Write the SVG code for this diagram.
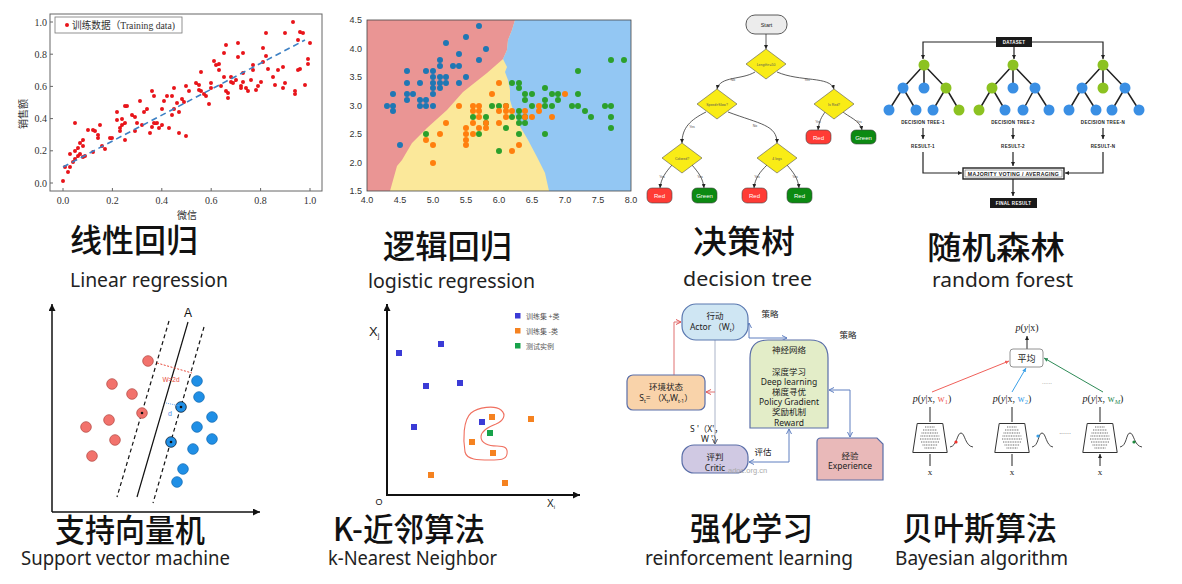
<svg xmlns="http://www.w3.org/2000/svg" width="1182" height="584" viewBox="0 0 1182 584">
<style>
.t1{font-family:"Noto Sans CJK SC",sans-serif;font-size:32px;font-weight:500;fill:#111}
.t2{font-family:"Noto Sans","Noto Sans CJK SC",sans-serif;font-size:20px;fill:#222}
.tk{font-family:"Liberation Serif",serif;font-size:10px;fill:#333}
.tk2{font-family:"Liberation Sans",sans-serif;font-size:9px;fill:#333}
.dt{font-family:"Liberation Sans",sans-serif;font-size:6px;fill:#fff;text-anchor:middle}
.dl{font-family:"Liberation Sans",sans-serif;font-size:3.5px;fill:#555;text-anchor:middle}
.rf{font-family:"Liberation Sans",sans-serif;font-size:4.5px;font-weight:bold;fill:#222;text-anchor:middle;letter-spacing:0.3px}
.rl{font-family:"Noto Sans","Noto Sans CJK SC",sans-serif;font-size:8.5px;fill:#222;text-anchor:middle}
.bs{font-family:"Liberation Serif","Noto Sans CJK SC",serif;font-size:10px;fill:#222;text-anchor:middle}
.dot{stroke-linecap:round;fill:none}
.red{fill:#ff3b35;stroke:#444;stroke-width:0.6}
.grn{fill:#0c8a12;stroke:#444;stroke-width:0.6}
.dia{fill:#f9ec16;stroke:#555;stroke-width:0.6}
.rg{fill:#8cc221}
.rb{fill:#3a8fe4}
.svr{fill:#f2726c;stroke:#b9504a;stroke-width:0.8}
.svb{fill:#1f8fe6;stroke:#1670b8;stroke-width:0.8}
.rln{fill:none;stroke:#5f7fc0;stroke-width:1}
</style>
<defs>
<marker id="ms" viewBox="0 0 6 6" refX="6" refY="3" markerWidth="4" markerHeight="4" markerUnits="userSpaceOnUse" orient="auto"><path d="M0,0L6,3L0,6z" fill="#222"/></marker>
<marker id="mm" viewBox="0 0 6 6" refX="6" refY="3" markerWidth="5" markerHeight="5" markerUnits="userSpaceOnUse" orient="auto"><path d="M0,0L6,3L0,6z" fill="#222"/></marker>
<marker id="ml" viewBox="0 0 8 8" refX="8" refY="4" markerWidth="8" markerHeight="7" markerUnits="userSpaceOnUse" orient="auto"><path d="M0,0L8,4L0,8z" fill="#111"/></marker>
<marker id="mro" viewBox="0 0 6 6" refX="5.5" refY="3" markerWidth="6" markerHeight="6" markerUnits="userSpaceOnUse" orient="auto"><path d="M0.5,0.5L5.5,3L0.5,5.5" fill="none" stroke="#e05555" stroke-width="1"/></marker>
<marker id="mbo" viewBox="0 0 6 6" refX="5.5" refY="3" markerWidth="6" markerHeight="6" markerUnits="userSpaceOnUse" orient="auto-start-reverse"><path d="M0.5,0.5L5.5,3L0.5,5.5" fill="none" stroke="#5f7fc0" stroke-width="1"/></marker>
<marker id="mgo" viewBox="0 0 6 6" refX="5.5" refY="3" markerWidth="6" markerHeight="6" markerUnits="userSpaceOnUse" orient="auto"><path d="M0.5,0.5L5.5,3L0.5,5.5" fill="none" stroke="#556" stroke-width="1"/></marker>
<marker id="mr" viewBox="0 0 6 6" refX="6" refY="3" markerWidth="4" markerHeight="4" markerUnits="userSpaceOnUse" orient="auto"><path d="M0,0L6,3L0,6z" fill="#f0605a"/></marker>
<marker id="mb" viewBox="0 0 6 6" refX="6" refY="3" markerWidth="4" markerHeight="4" markerUnits="userSpaceOnUse" orient="auto"><path d="M0,0L6,3L0,6z" fill="#3aa0e8"/></marker>
<marker id="mg" viewBox="0 0 6 6" refX="6" refY="3" markerWidth="4" markerHeight="4" markerUnits="userSpaceOnUse" orient="auto"><path d="M0,0L6,3L0,6z" fill="#2e8b57"/></marker>
</defs>
<rect width="1182" height="584" fill="#fff"/>

<!-- Panel 1: linear regression -->
<g id="linear-regression">
<rect x="50" y="14" width="272" height="177" fill="#fff" stroke="#666" stroke-width="1"/>
<g stroke="#666" stroke-width="1">
<path d="M50 183h3M50 150.8h3M50 118.6h3M50 86.4h3M50 54.2h3M50 22h3M63 191v-3M112.4 191v-3M161.8 191v-3M211.2 191v-3M260.6 191v-3M310 191v-3"/>
</g>
<g class="tk" text-anchor="end">
<text x="47" y="186.5">0.0</text><text x="47" y="154.3">0.2</text><text x="47" y="122.1">0.4</text><text x="47" y="89.9">0.6</text><text x="47" y="57.7">0.8</text><text x="47" y="25.5">1.0</text>
</g>
<g class="tk" text-anchor="middle">
<text x="63" y="204">0.0</text><text x="112.4" y="204">0.2</text><text x="161.8" y="204">0.4</text><text x="211.2" y="204">0.6</text><text x="260.6" y="204">0.8</text><text x="310" y="204">1.0</text>
</g>
<text x="187" y="219" text-anchor="middle" font-family="Noto Sans CJK SC, sans-serif" font-size="10" fill="#333">微信</text>
<text transform="translate(27 114) rotate(-90)" text-anchor="middle" font-family="Noto Sans CJK SC, sans-serif" font-size="10" fill="#333">销售额</text>
<path class="dot" stroke="#e8141a" stroke-width="4" d="M63 181h0M68 172h0M65 167h0M70 167h0M70 154h0M73 162h0M75 159h0M75 151h0M75 123h0M78 156h0M78 148h0M80 143h0M80 154h0M83 140h0M83 146h0M83 157h0M85 156h0M88 130h0M93 152h0M93 130h0M95 131h0M98 138h0M98 135h0M100 125h0M102 146h0M105 149h0M110 138h0M112 138h0M117 112h0M117 120h0M120 128h0M120 131h0M122 125h0M122 119h0M125 106h0M125 123h0M125 140h0M127 106h0M132 115h0M135 117h0M135 131h0M137 123h0M140 101h0M142 125h0M144 112h0M147 109h0M150 133h0M152 127h0M152 91h0M154 96h0M154 123h0M157 123h0M159 128h0M162 109h0M162 125h0M164 101h0M167 96h0M169 128h0M172 115h0M172 96h0M174 88h0M174 109h0M177 103h0M179 133h0M179 112h0M182 99h0M184 102h0M186 86h0M186 136h0M189 91h0M196 83h0M199 90h0M199 85h0M201 72h0M201 91h0M204 94h0M206 96h0M209 104h0M211 88h0M211 83h0M214 61h0M216 65h0M219 64h0M219 70h0M221 86h0M224 77h0M224 53h0M226 45h0M226 91h0M228 98h0M228 93h0M231 82h0M231 77h0M233 83h0M236 80h0M238 43h0M238 57h0M241 88h0M241 86h0M243 53h0M243 82h0M243 73h0M246 88h0M248 91h0M251 80h0M253 65h0M253 70h0M256 90h0M258 86h0M261 82h0M263 48h0M263 62h0M266 33h0M266 56h0M268 69h0M273 77h0M275 85h0M278 70h0M283 67h0M283 88h0M285 83h0M285 33h0M293 22h0M295 91h0M295 94h0M298 70h0M298 40h0M300 69h0M300 32h0M303 33h0M305 85h0M308 59h0M308 64h0M310 43h0"/>
<line x1="63" y1="167" x2="305" y2="40" stroke="#3d80c4" stroke-width="1.6" stroke-dasharray="6 4"/>
<rect x="55" y="17" width="127" height="16" fill="#fff" stroke="#777" stroke-width="0.8"/>
<circle cx="67" cy="25" r="2" fill="#e8141a"/>
<text x="72" y="29" font-family="Liberation Serif, Noto Sans CJK SC, serif" font-size="10" fill="#333" textLength="103" lengthAdjust="spacingAndGlyphs">训练数据（Training data)</text>
</g>

<!-- Panel 2: logistic regression -->
<g id="logistic-regression">
<rect x="367" y="20" width="264" height="171" fill="#fbe89a"/>
<path d="M367 20H515L512 30L508 40L507 50L503 59L487 73L463 92L447 110L427 128L412 143L402 160L397 166L390 191H367Z" fill="#ea9594"/>
<path d="M515 20H631V191H549L545 173L537 157L528 140L518 123L513 110L510 100L510 90L508 80L505 72L507 67L503 59L507 50L508 40L512 30Z" fill="#93c7f3"/>
<path class="dot" stroke="#1f77b4" stroke-width="6" d="M387 106h0M393 94h0M393 106h0M393 111h0M400 145h0M407 71h0M407 83h0M407 94h0M407 100h0M413 94h0M420 83h0M420 100h0M420 106h0M426 71h0M426 100h0M426 106h0M433 71h0M433 77h0M433 83h0M433 88h0M433 94h0M433 106h0M440 60h0M440 66h0M440 77h0M440 83h0M440 88h0M446 43h0M446 77h0M446 83h0M453 66h0M459 54h0M459 66h0M459 83h0M466 37h0M466 77h0M479 26h0M479 60h0M486 49h0"/>
<path class="dot" stroke="#2ca02c" stroke-width="6" d="M426 134h0M473 117h0M479 134h0M486 117h0M486 123h0M492 106h0M499 106h0M499 151h0M506 106h0M506 128h0M512 83h0M512 117h0M519 83h0M519 88h0M519 111h0M519 117h0M519 123h0M519 134h0M525 94h0M525 100h0M525 117h0M525 123h0M532 94h0M532 106h0M545 88h0M545 100h0M545 106h0M545 134h0M552 94h0M552 106h0M558 94h0M558 100h0M572 106h0M578 71h0M578 94h0M578 106h0M585 111h0M591 117h0M605 106h0M611 60h0M611 106h0M611 117h0M611 128h0M624 60h0"/>
<path class="dot" stroke="#ff7f0e" stroke-width="6" d="M426 140h0M433 145h0M433 163h0M440 134h0M446 123h0M459 106h0M466 128h0M466 134h0M466 140h0M466 145h0M473 106h0M473 111h0M473 123h0M473 134h0M479 106h0M479 111h0M479 117h0M479 128h0M486 123h0M486 128h0M492 94h0M499 83h0M499 111h0M499 123h0M506 106h0M506 111h0M506 117h0M512 111h0M512 151h0M519 145h0M525 111h0M525 117h0M532 117h0M539 106h0M539 111h0M552 117h0M565 94h0"/>
<rect x="367" y="20" width="264" height="171" fill="none" stroke="#444" stroke-width="0.8"/>
<g class="tk2" text-anchor="end">
<text x="362" y="194">1.5</text><text x="362" y="165.5">2.0</text><text x="362" y="137">2.5</text><text x="362" y="108.5">3.0</text><text x="362" y="80">3.5</text><text x="362" y="51.5">4.0</text><text x="362" y="23">4.5</text>
</g>
<g class="tk2" text-anchor="middle">
<text x="367" y="203">4.0</text><text x="400" y="203">4.5</text><text x="433" y="203">5.0</text><text x="466" y="203">5.5</text><text x="499" y="203">6.0</text><text x="532" y="203">6.5</text><text x="565" y="203">7.0</text><text x="598" y="203">7.5</text><text x="631" y="203">8.0</text>
</g>
</g>

<!-- Panel 3: decision tree -->
<g id="decision-tree">
<g id="dt-edges" fill="none" stroke="#333" stroke-width="0.8" marker-end="url(#ms)">
<path d="M766 34V49"/>
<path d="M755 72C742 80 720 76 717 89"/>
<path d="M777 72C800 82 830 76 834 89"/>
<path d="M706 112C690 120 682 128 682 143"/>
<path d="M728 112C760 124 777 125 777 143"/>
<path d="M826 111C821 117 819 122 818 130"/>
<path d="M842 111C848 117 860 120 862 130"/>
<path d="M672 165C666 172 661 178 660 188"/>
<path d="M692 165C698 172 703 178 704 188"/>
<path d="M767 165C760 172 755 178 754 188"/>
<path d="M787 165C793 172 798 178 799 188"/>
</g>
<g class="dl">
<text x="733" y="81">No</text><text x="807" y="81">Yes</text>
<text x="692" y="128">Yes</text><text x="755" y="127">No</text>
<text x="818" y="123">Yes</text><text x="859" y="123">Yes</text>
<text x="662" y="178">Yes</text><text x="700" y="178">Yes</text>
<text x="757" y="178">Yes</text><text x="795" y="178">Yes</text>
</g>
<g id="dt-start"><rect x="746" y="15" width="41" height="19" rx="9" fill="#ececec" stroke="#333" stroke-width="0.8"/><text x="766.5" y="26.5" font-family="Liberation Sans, sans-serif" font-size="5.5" text-anchor="middle" fill="#222">Start</text></g>
<g id="dt-d1"><path class="dia" d="M766 49L786 64L766 79L746 64Z"/><text x="766" y="65.5" class="dl" fill="#333">Length&gt;=50</text></g>
<g id="dt-d2"><path class="dia" d="M717 89L737 104L717 119L697 104Z"/><text x="717" y="105.5" class="dl">Speed&gt;Slow?</text></g>
<g id="dt-d3"><path class="dia" d="M834 89L854 104L834 119L814 104Z"/><text x="834" y="105.5" class="dl">Is Red?</text></g>
<g id="dt-d4"><path class="dia" d="M682 143L702 158L682 173L662 158Z"/><text x="682" y="159.5" class="dl">Colored?</text></g>
<g id="dt-d5"><path class="dia" d="M777 143L797 158L777 173L757 158Z"/><text x="777" y="159.5" class="dl">4 legs</text></g>
<g id="dt-l1"><rect class="red" x="806" y="130" width="25" height="14" rx="5"/><text class="dt" x="818.5" y="139.5">Red</text></g>
<g id="dt-l2"><rect class="grn" x="851" y="130" width="25" height="14" rx="5"/><text class="dt" x="863.5" y="139.5">Green</text></g>
<g id="dt-l3"><rect class="red" x="647" y="188" width="25" height="15" rx="5"/><text class="dt" x="659.5" y="197.5">Red</text></g>
<g id="dt-l4"><rect class="grn" x="692" y="188" width="25" height="15" rx="5"/><text class="dt" x="704.5" y="197.5">Green</text></g>
<g id="dt-l5"><rect class="red" x="742" y="188" width="25" height="15" rx="5"/><text class="dt" x="754.5" y="197.5">Red</text></g>
<g id="dt-l6"><rect class="grn" x="787" y="188" width="25" height="15" rx="5"/><text class="dt" x="799.5" y="197.5">Red</text></g>
</g>

<!-- Panel 4: random forest -->
<g id="random-forest">
<g id="rf-connectors" fill="none" stroke="#222" stroke-width="1.2" marker-end="url(#ms)">
<path d="M996 42H923V59"/><path d="M1032 42H1103V59"/><path d="M1014 47V59"/>
<path d="M923 128V139"/><path d="M1013 128V139"/><path d="M1103 128V139"/>
<path d="M923 152V173H962"/><path d="M1013 152V166"/><path d="M1103 152V173H1065"/>
<path d="M1013 179V196"/>
</g>
<g stroke="#222" stroke-width="1.5">
<path d="M924 65L903 88M924 65L924 88M924 65L946 88M903 88L889 110M903 88L916 110M946 88L933 110M946 88L959 110"/>
<path d="M1013 65L992 88M1013 65L1013 88M1013 65L1035 88M992 88L979 110M992 88L1005 110M1035 88L1023 110M1035 88L1049 110"/>
<path d="M1103 65L1082 88M1103 65L1103 88M1103 65L1125 88M1082 88L1069 110M1082 88L1096 110M1125 88L1112 110M1125 88L1139 110"/>
</g>
<g id="rf-tree1">
<circle class="rg" cx="924" cy="65" r="5.5"/><circle class="rb" cx="903" cy="88" r="5.5"/><circle class="rb" cx="924" cy="88" r="5.5"/><circle class="rg" cx="946" cy="88" r="5.5"/>
<circle class="rb" cx="889" cy="110" r="5.5"/><circle class="rb" cx="916" cy="110" r="5.5"/><circle class="rb" cx="933" cy="110" r="5.5"/><circle class="rg" cx="959" cy="110" r="5.5"/>
</g>
<g id="rf-tree2">
<circle class="rg" cx="1013" cy="65" r="5.5"/><circle class="rg" cx="992" cy="88" r="5.5"/><circle class="rb" cx="1013" cy="88" r="5.5"/><circle class="rb" cx="1035" cy="88" r="5.5"/>
<circle class="rg" cx="979" cy="110" r="5.5"/><circle class="rb" cx="1005" cy="110" r="5.5"/><circle class="rb" cx="1023" cy="110" r="5.5"/><circle class="rb" cx="1049" cy="110" r="5.5"/>
</g>
<g id="rf-tree3">
<circle class="rg" cx="1103" cy="65" r="5.5"/><circle class="rb" cx="1082" cy="88" r="5.5"/><circle class="rg" cx="1103" cy="88" r="5.5"/><circle class="rb" cx="1125" cy="88" r="5.5"/>
<circle class="rb" cx="1069" cy="110" r="5.5"/><circle class="rb" cx="1096" cy="110" r="5.5"/><circle class="rb" cx="1112" cy="110" r="5.5"/><circle class="rb" cx="1139" cy="110" r="5.5"/>
</g>
<g id="rf-dataset"><rect x="996" y="37" width="36" height="10" fill="#1a1a1a"/><text x="1014" y="44" class="rf" fill="#fff" style="fill:#fff">DATASET</text></g>
<text x="923" y="124" class="rf">DECISION TREE-1</text><text x="1013" y="124" class="rf">DECISION TREE-2</text><text x="1103" y="124" class="rf">DECISION TREE-N</text>
<text x="923" y="148" class="rf">RESULT-1</text><text x="1013" y="148" class="rf">RESULT-2</text><text x="1103" y="148" class="rf">RESULT-N</text>
<g id="rf-vote"><rect x="963" y="168" width="101" height="11" fill="#fff" stroke="#222" stroke-width="1.4"/><rect x="965" y="170" width="97" height="7" fill="none" stroke="#222" stroke-width="0.4"/><text x="1013.5" y="175.6" class="rf" style="font-size:5.2px">MAJORITY VOTING / AVERAGING</text></g>
<g id="rf-final"><rect x="990" y="198" width="47" height="10" fill="#1a1a1a"/><text x="1013.5" y="205" class="rf" style="fill:#fff">FINAL RESULT</text></g>
</g>

<!-- Panel 5: SVM -->
<g id="svm">
<g id="svm-axes" fill="none" stroke="#111" stroke-width="1.5" marker-end="url(#ml)">
<path d="M52 512V304"/><path d="M52 512H260"/>
</g>
<line x1="188" y1="322" x2="137" y2="497" stroke="#111" stroke-width="1.2"/>
<line x1="169" y1="321" x2="117" y2="497" stroke="#111" stroke-width="1.2" stroke-dasharray="4 3"/>
<line x1="204" y1="327" x2="153" y2="503" stroke="#111" stroke-width="1.2" stroke-dasharray="4 3"/>
<text x="188" y="317" font-family="Liberation Sans, sans-serif" font-size="12" text-anchor="middle" fill="#111">A</text>
<g id="svm-red">
<circle class="svr" cx="148" cy="361" r="5.3"/><circle class="svr" cx="112" cy="384" r="5.3"/><circle class="svr" cx="132" cy="394" r="5.3"/><circle class="svr" cx="142" cy="413" r="5.3"/>
<circle class="svr" cx="109" cy="420" r="5.3"/><circle class="svr" cx="86" cy="427" r="5.3"/><circle class="svr" cx="115" cy="440" r="5.3"/><circle class="svr" cx="92" cy="456" r="5.3"/>
</g>
<g id="svm-blue">
<circle class="svb" cx="197" cy="381" r="5.3"/><circle class="svb" cx="199" cy="397" r="5.3"/><circle class="svb" cx="181" cy="407" r="5.3" style="stroke:#123"/><circle class="svb" cx="212" cy="417" r="5.3"/>
<circle class="svb" cx="197" cy="427" r="5.3"/><circle class="svb" cx="212" cy="439" r="5.3"/><circle class="svb" cx="171" cy="442" r="5.3" style="stroke:#123"/><circle class="svb" cx="193" cy="449" r="5.3"/>
<circle class="svb" cx="183" cy="469" r="5.3"/><circle class="svb" cx="177" cy="482" r="5.3"/>
</g>
<g fill="#111"><circle cx="142" cy="413" r="1.3"/><circle cx="181" cy="407" r="1.3"/><circle cx="171" cy="442" r="1.3"/></g>
<line x1="157" y1="363" x2="192" y2="373" stroke="#e84a3c" stroke-width="1" stroke-dasharray="2 1.5"/>
<text x="171" y="382" font-family="Liberation Sans, sans-serif" font-size="6.5" text-anchor="middle" fill="#e84a3c">W=2d</text>
<line x1="166" y1="403" x2="180" y2="406" stroke="#6aa7f0" stroke-width="1" stroke-dasharray="1 1"/>
<text x="170" y="416" font-family="Liberation Sans, sans-serif" font-size="7" text-anchor="middle" fill="#4a8ae8">d</text>
</g>

<!-- Panel 6: KNN -->
<g id="knn">
<g id="knn-axes" fill="none" stroke="#111" stroke-width="2" marker-end="url(#ml)">
<path d="M387 495V304"/><path d="M386 495H580"/>
</g>
<text x="379" y="505" font-family="Liberation Sans, sans-serif" font-size="9" text-anchor="middle" fill="#111">O</text>
<text x="369" y="336" font-family="Liberation Sans, sans-serif" font-size="13" fill="#222">X<tspan font-size="7" dy="2">j</tspan></text>
<text x="547" y="507" font-family="Liberation Sans, sans-serif" font-size="10" fill="#222">X<tspan font-size="6" dy="2">i</tspan></text>
<g id="knn-legend" font-family="Noto Sans CJK SC, sans-serif" font-size="7" fill="#555">
<rect x="515" y="313" width="5.5" height="5.5" fill="#3b3bd6"/><text x="526" y="319">训练集 +类</text>
<rect x="515" y="328" width="5.5" height="5.5" fill="#f58220"/><text x="526" y="334">训练集 -类</text>
<rect x="515" y="343" width="5.5" height="5.5" fill="#17a24a"/><text x="526" y="349">测试实例</text>
</g>
<g fill="#3b3bd6"><rect x="396" y="350" width="6" height="6"/><rect x="438" y="341" width="6" height="6"/><rect x="423" y="383" width="6" height="6"/><rect x="457" y="380" width="6" height="6"/><rect x="411" y="424" width="6" height="6"/><rect x="479" y="419" width="6" height="6"/></g>
<g fill="#f58220"><rect x="489" y="414" width="6" height="6"/><rect x="528" y="416" width="6" height="6"/><rect x="469" y="439" width="6" height="6"/><rect x="490" y="450" width="6" height="6"/><rect x="428" y="472" width="6" height="6"/><rect x="502" y="480" width="6" height="6"/></g>
<rect x="487" y="430" width="6" height="6" fill="#17a24a"/>
<path d="M501 410C495 405 478 407 471 413C463 420 463 440 465 452C467 460 478 460 490 460C500 460 506 460 507 454C508 448 505 446 497 446C488 446 481 443 481 437C481 431 488 427 496 424C503 421 507 415 501 410Z" fill="none" stroke="#f07060" stroke-width="1.1"/>
</g>

<!-- Panel 7: reinforcement learning -->
<g id="reinforcement-learning">
<g id="rl-connectors">
<path d="M674 375V322H681" fill="none" stroke="#e07070" stroke-width="1" marker-end="url(#mro)"/>
<path d="M715 340V444" fill="none" stroke="#aab3c8" stroke-width="1" marker-end="url(#mgo)"/>
<path d="M715 392H706" fill="none" stroke="#e07070" stroke-width="1" marker-end="url(#mro)"/>
<path class="rln" d="M749 323V338H787" marker-start="url(#mbo)" marker-end="url(#mbo)"/>
<path class="rln" d="M789 429V462H749" marker-start="url(#mbo)" marker-end="url(#mbo)"/>
<path class="rln" d="M829 390H850V437" marker-start="url(#mbo)" marker-end="url(#mbo)"/>
</g>
<g id="rl-actor"><rect x="682" y="304" width="66" height="36" rx="14" fill="#cfe6f3" stroke="#5a78b0" stroke-width="1.2"/><text class="rl" x="715" y="319">行动</text><text class="rl" x="715" y="330">Actor （W<tspan font-size="5" dy="1.5">t</tspan><tspan dy="-1.5">）</tspan></text></g>
<g id="rl-nn"><path d="M750 428V358Q750 340 768 340H810Q828 340 828 358V428Z" fill="#e3edc8" stroke="#5a6ea8" stroke-width="1.2"/>
<text class="rl" x="789" y="353">神经网络</text><text class="rl" x="789" y="375">深度学习</text><text class="rl" x="789" y="385">Deep learning</text><text class="rl" x="789" y="395">梯度寻优</text><text class="rl" x="789" y="405">Policy Gradient</text><text class="rl" x="789" y="415">奖励机制</text><text class="rl" x="789" y="425.5">Reward</text></g>
<g id="rl-env"><rect x="627" y="375" width="78" height="35" rx="6" fill="#f9d3aa" stroke="#5a6ea8" stroke-width="1.2"/><text class="rl" x="666" y="390">环境状态</text><text class="rl" x="666" y="401">S<tspan font-size="5" dy="1.5">t</tspan><tspan dy="-1.5">= （X</tspan><tspan font-size="5" dy="1.5">t</tspan><tspan dy="-1.5">,W</tspan><tspan font-size="5" dy="1.5">t-1</tspan><tspan dy="-1.5">）</tspan></text></g>
<g id="rl-critic"><rect x="682" y="445" width="66" height="28" rx="12" fill="#d0c9e3" stroke="#5a6ea8" stroke-width="1.2"/><text class="rl" x="715" y="460">评判</text><text class="rl" x="715" y="470.5">Critic</text></g>
<g id="rl-exp"><path d="M817 480V442Q817 438 821 438H877L883 444V480Z" fill="#e9b9b9" stroke="#5a6ea8" stroke-width="1.2"/><text class="rl" x="850" y="459">经验</text><text class="rl" x="850" y="469">Experience</text></g>
<text class="rl" x="770" y="317">策略</text>
<text class="rl" x="848" y="338">策略</text>
<text class="rl" x="690" y="432" text-anchor="start" style="text-anchor:start">S '（X'，</text>
<text class="rl" x="701" y="442" style="text-anchor:start">W '）</text>
<text class="rl" x="763" y="455">评估</text>
<text x="728" y="473" font-family="Liberation Sans, sans-serif" font-size="7.5" fill="#aaa">adoc.org.cn</text>
</g>

<!-- Panel 8: Bayesian -->
<g id="bayesian">
<g id="by-connectors" fill="none" stroke-width="1">
<path d="M1027 349V336" stroke="#222" marker-end="url(#ms)"/>
<path d="M932 392L1009 361" stroke="#f0605a" marker-end="url(#mr)"/>
<path d="M1012 392L1026 368" stroke="#3aa0e8" marker-end="url(#mb)"/>
<path d="M1103 392L1044 358" stroke="#2e8b57" marker-end="url(#mg)"/>
<path d="M930 422V407M1012 422V407M1100 422V407M930 466V454M1012 466V454M1100 466V454" stroke="#222" marker-end="url(#ms)"/>
</g>
<text class="bs" x="1027" y="331"><tspan font-style="italic">p</tspan>(<tspan font-style="italic">y</tspan>|x)</text>
<g id="by-avg"><rect x="1010" y="349" width="33" height="18" rx="3" fill="#fff" stroke="#777" stroke-width="0.8"/><text x="1026.5" y="361.5" font-family="Noto Sans CJK SC, sans-serif" font-size="9" text-anchor="middle" fill="#222">平均</text></g>
<text x="1047" y="384" font-family="Liberation Sans, sans-serif" font-size="6" text-anchor="middle" fill="#777">......</text>
<text class="bs" x="932" y="402"><tspan font-style="italic">p</tspan>(<tspan font-style="italic">y</tspan>|x, <tspan fill="#f0605a">w</tspan><tspan fill="#f0605a" font-size="6.5" dy="2">1</tspan><tspan dy="-2">)</tspan></text>
<text class="bs" x="1012" y="402"><tspan font-style="italic">p</tspan>(<tspan font-style="italic">y</tspan>|x, <tspan fill="#3aa0e8">w</tspan><tspan fill="#3aa0e8" font-size="6.5" dy="2">2</tspan><tspan dy="-2">)</tspan></text>
<text class="bs" x="1103" y="402"><tspan font-style="italic">p</tspan>(<tspan font-style="italic">y</tspan>|x, <tspan fill="#2e8b57">w</tspan><tspan fill="#2e8b57" font-size="6.5" dy="2" font-style="italic">M</tspan><tspan dy="-2">)</tspan></text>
<g id="by-net1" transform="translate(930 0)">
<path d="M-12.8 423.5H12.8L17.2 452.5H-17.2Z" fill="#fff" stroke="#333" stroke-width="1"/>
<path d="M-5 427H5M-7 430H7M-8.5 433H8.5M-9.5 436H9.5M-10 439H10M-9 442H9M-7.5 445H7.5M-5.5 448H5.5" stroke="#999" stroke-width="1.3" stroke-dasharray="1 0.7"/>
</g>
<g id="by-net2" transform="translate(1012 0)">
<path d="M-12.8 423.5H12.8L17.2 452.5H-17.2Z" fill="#fff" stroke="#333" stroke-width="1"/>
<path d="M-5 427H5M-7 430H7M-8.5 433H8.5M-9.5 436H9.5M-10 439H10M-9 442H9M-7.5 445H7.5M-5.5 448H5.5" stroke="#999" stroke-width="1.3" stroke-dasharray="1 0.7"/>
</g>
<g id="by-net3" transform="translate(1100 0)">
<path d="M-12.8 423.5H12.8L17.2 452.5H-17.2Z" fill="#fff" stroke="#333" stroke-width="1"/>
<path d="M-5 427H5M-7 430H7M-8.5 433H8.5M-9.5 436H9.5M-10 439H10M-9 442H9M-7.5 445H7.5M-5.5 448H5.5" stroke="#999" stroke-width="1.3" stroke-dasharray="1 0.7"/>
</g>
<g fill="none" stroke="#333" stroke-width="0.9">
<path d="M950 447C957 446 957 433 961 433C965 433 965 446 973 447"/>
<path d="M1032 447C1039 446 1038 433 1042 433C1046 433 1046 446 1053 447"/>
<path d="M1120 447C1127 446 1126 433 1130 433C1134 433 1134 446 1142 447"/>
</g>
<circle cx="956" cy="442" r="1.6" fill="#f0302a"/><circle cx="1038" cy="436" r="1.6" fill="#3aa0e8"/><circle cx="1134" cy="442" r="1.6" fill="#1e8b3e"/>
<text x="1065" y="434" font-family="Liberation Sans, sans-serif" font-size="7" text-anchor="middle" fill="#777">......</text>
<g class="bs" style="font-size:9px"><text x="930" y="475">x</text><text x="1012" y="475">x</text><text x="1100" y="475">x</text></g>
</g>

<!-- Titles -->
<g id="titles">
<text class="t1" x="70" y="252" textLength="128" lengthAdjust="spacingAndGlyphs">线性回归</text>
<text class="t2" x="70" y="287" textLength="158" lengthAdjust="spacingAndGlyphs">Linear regression</text>
<text class="t1" x="383" y="258" textLength="129" lengthAdjust="spacingAndGlyphs">逻辑回归</text>
<text class="t2" x="368" y="288" textLength="167" lengthAdjust="spacingAndGlyphs">logistic regression</text>
<text class="t1" x="693" y="253" textLength="102" lengthAdjust="spacingAndGlyphs">决策树</text>
<text class="t2" x="683" y="286" textLength="129" lengthAdjust="spacingAndGlyphs">decision tree</text>
<text class="t1" x="927" y="259" textLength="138" lengthAdjust="spacingAndGlyphs">随机森林</text>
<text class="t2" x="932" y="287" textLength="141" lengthAdjust="spacingAndGlyphs">random forest</text>
<text class="t1" x="55" y="542" textLength="150" lengthAdjust="spacingAndGlyphs">支持向量机</text>
<text class="t2" x="21" y="565" textLength="209" lengthAdjust="spacingAndGlyphs">Support vector machine</text>
<text class="t1" x="333" y="541" textLength="152" lengthAdjust="spacingAndGlyphs">K-近邻算法</text>
<text class="t2" x="328" y="565" textLength="169" lengthAdjust="spacingAndGlyphs">k-Nearest Neighbor</text>
<text class="t1" x="690" y="540" textLength="123" lengthAdjust="spacingAndGlyphs">强化学习</text>
<text class="t2" x="645" y="565" textLength="208" lengthAdjust="spacingAndGlyphs">reinforcement learning</text>
<text class="t1" x="902" y="540" textLength="155" lengthAdjust="spacingAndGlyphs">贝叶斯算法</text>
<text class="t2" x="895" y="565" textLength="173" lengthAdjust="spacingAndGlyphs">Bayesian algorithm</text>
</g>
</svg>
